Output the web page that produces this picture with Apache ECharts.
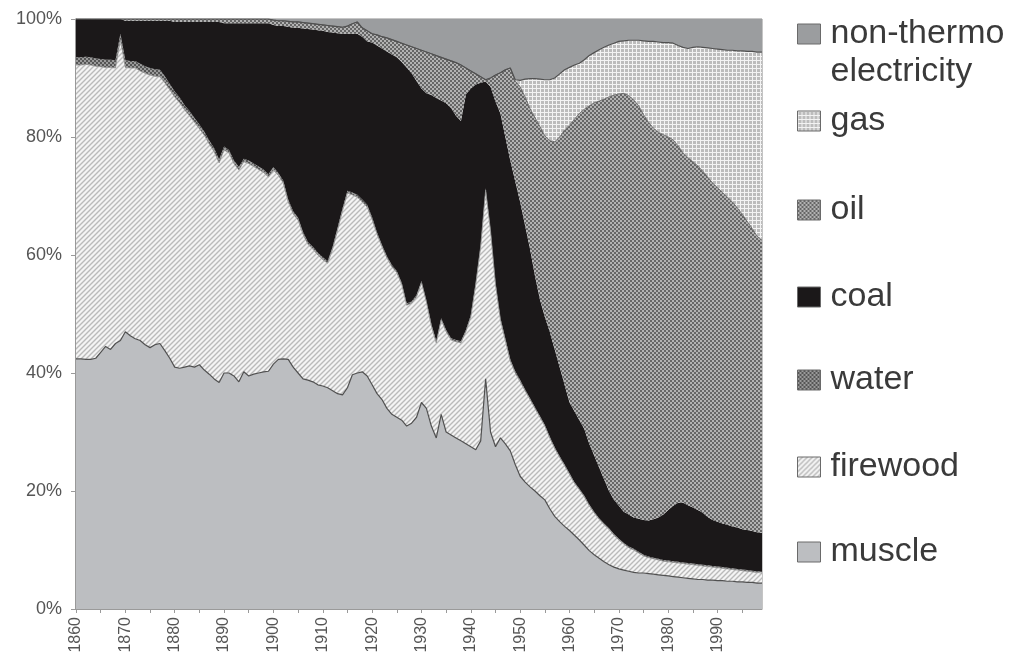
<!DOCTYPE html>
<html>
<head>
<meta charset="utf-8">
<script src="https://cdn.jsdelivr.net/npm/echarts@6/dist/echarts.min.js"></script>
<style>
html,body{margin:0;padding:0;background:#fff;}
#chart{width:1016px;height:661px;}
</style>
</head>
<body>
<div id="chart"></div>
<script>
// ---- DATA (shares of total energy, %) ----
const years = [];
for (let y = 1860; y <= 1999; y++) years.push(String(y));

const seriesNames = ['muscle', 'firewood', 'water', 'coal', 'oil', 'gas', 'non-thermo electricity'];

const muscle = [
  42.4, 42.4, 42.3, 42.3, 42.5, 43.5, 44.5, 44.0, 45.0, 45.5,
  47.0, 46.3, 45.8, 45.5, 44.8, 44.3, 44.8, 45.0, 43.8, 42.5,
  41.0, 40.8, 41.0, 41.2, 41.0, 41.4, 40.5, 39.8, 39.0, 38.4,
  40.0, 40.0, 39.5, 38.5, 40.2, 39.5, 39.8, 40.0, 40.2, 40.3,
  41.5, 42.3, 42.4, 42.3, 41.0, 40.0, 39.0, 38.8, 38.5, 38.0,
  37.8, 37.5, 37.0, 36.5, 36.3, 37.5, 39.7, 40.0, 40.2, 39.5,
  38.0, 36.5, 35.5, 34.0, 33.0, 32.5, 32.0, 31.0, 31.5, 32.5,
  35.0, 34.0, 31.0, 29.0, 33.0, 30.0, 29.5, 29.0, 28.5, 28.0,
  27.5, 27.0, 28.5, 39.0, 30.0, 27.5, 29.0, 28.0, 26.8, 24.5,
  22.5, 21.5, 20.7, 20.0, 19.2, 18.5, 17.0, 15.7, 14.8, 14.0,
  13.3, 12.5, 11.7, 10.8, 9.9, 9.2, 8.6, 8.0, 7.5, 7.1,
  6.8, 6.6, 6.4, 6.2, 6.1, 6.1, 6.0, 5.9, 5.8, 5.7,
  5.6, 5.5, 5.4, 5.3, 5.2, 5.1, 5.0, 5.0, 4.9, 4.9,
  4.8, 4.8, 4.7, 4.7, 4.6, 4.6, 4.5, 4.5, 4.4, 4.4
];

const firewood = [
  49.8, 49.8, 50.0, 49.9, 49.5, 48.4, 47.3, 47.8, 46.7, 51.0,
  44.8, 45.4, 45.9, 45.7, 46.0, 46.2, 45.5, 45.2, 45.4, 45.5,
  45.8, 45.0, 43.6, 42.4, 41.5, 40.0, 39.8, 39.0, 38.5, 37.2,
  37.8, 37.3, 36.0, 35.9, 35.6, 36.0, 35.2, 34.5, 33.8, 32.9,
  32.9, 31.2, 29.8, 26.7, 26.0, 25.9, 24.5, 23.0, 22.5, 22.0,
  21.4, 21.1, 24.0, 27.7, 31.2, 33.0, 30.5, 29.8, 28.8, 28.6,
  28.0, 27.0, 25.9, 25.5, 25.0, 24.5, 23.0, 20.5, 20.3, 20.4,
  20.3, 18.0, 17.0, 16.1, 16.0, 17.0, 16.1, 16.3, 16.6, 19.0,
  22.0, 28.0, 32.9, 32.0, 34.0, 27.5, 20.0, 17.5, 15.2, 15.5,
  16.0, 15.5, 14.8, 14.0, 13.3, 12.5, 12.0, 11.5, 10.9, 10.3,
  9.5, 8.8, 8.5, 8.2, 7.6, 7.1, 6.6, 6.3, 6.0, 5.4,
  4.9, 4.4, 4.0, 3.8, 3.4, 2.9, 2.7, 2.6, 2.5, 2.4,
  2.4, 2.4, 2.4, 2.4, 2.4, 2.4, 2.4, 2.3, 2.3, 2.2,
  2.2, 2.1, 2.1, 2.0, 2.0, 1.9, 1.9, 1.8, 1.8, 1.7
];

const water = [
  1.3, 1.3, 1.3, 1.3, 1.3, 1.3, 1.3, 1.3, 1.3, 1.0,
  1.2, 1.2, 1.2, 1.2, 1.2, 1.2, 1.2, 1.2, 1.1, 1.0,
  0.9, 0.9, 0.8, 0.8, 0.7, 0.7, 0.6, 0.6, 0.6, 0.6,
  0.6, 0.5, 0.5, 0.5, 0.5, 0.5, 0.5, 0.5, 0.5, 0.5,
  0.5, 0.4, 0.4, 0.4, 0.4, 0.4, 0.4, 0.4, 0.4, 0.4,
  0.4, 0.4, 0.4, 0.4, 0.4, 0.4, 0.4, 0.4, 0.4, 0.4,
  0.4, 0.3, 0.3, 0.3, 0.3, 0.3, 0.3, 0.3, 0.3, 0.3,
  0.3, 0.3, 0.3, 0.3, 0.3, 0.3, 0.3, 0.3, 0.3, 0.3,
  0.3, 0.3, 0.3, 0.3, 0.3, 0.3, 0.3, 0.3, 0.3, 0.3,
  0.3, 0.2, 0.2, 0.2, 0.2, 0.2, 0.2, 0.2, 0.2, 0.2,
  0.2, 0.2, 0.2, 0.2, 0.2, 0.2, 0.2, 0.2, 0.2, 0.2,
  0.2, 0.2, 0.2, 0.2, 0.2, 0.2, 0.2, 0.2, 0.2, 0.2,
  0.2, 0.2, 0.2, 0.2, 0.2, 0.2, 0.2, 0.2, 0.2, 0.2,
  0.2, 0.2, 0.2, 0.2, 0.2, 0.2, 0.2, 0.2, 0.2, 0.2
];

const coal = [
  6.5, 6.5, 6.4, 6.5, 6.7, 6.8, 6.9, 6.9, 7.0, 2.5,
  6.7, 6.8, 6.8, 7.3, 7.7, 8.0, 8.2, 8.3, 9.4, 10.7,
  11.8, 12.8, 14.1, 15.1, 16.3, 17.4, 18.6, 20.1, 21.4, 23.3,
  20.9, 21.5, 23.3, 24.4, 23.0, 23.3, 23.8, 24.3, 24.8, 25.6,
  24.1, 24.9, 26.2, 29.3, 31.1, 32.2, 34.5, 36.1, 36.8, 37.7,
  38.4, 38.8, 36.3, 33.0, 29.6, 26.6, 26.9, 27.3, 27.6, 27.7,
  29.6, 31.7, 33.3, 34.7, 35.7, 36.2, 37.4, 40.0, 38.7, 36.3,
  32.6, 35.1, 38.8, 41.2, 36.9, 38.4, 39.0, 38.0, 37.3, 39.9,
  38.4, 33.6, 27.5, 18.1, 24.2, 30.7, 34.7, 34.2, 33.7, 32.2,
  30.2, 27.8, 25.3, 22.3, 19.8, 18.3, 17.8, 16.6, 15.1, 13.5,
  12.0, 12.0, 11.6, 11.3, 10.3, 9.5, 8.6, 7.5, 6.3, 5.8,
  5.6, 5.3, 5.4, 5.3, 5.6, 5.9, 6.1, 6.5, 7.0, 7.7,
  8.6, 9.4, 10.0, 10.1, 9.8, 9.5, 9.2, 8.8, 8.2, 7.8,
  7.6, 7.4, 7.3, 7.1, 7.0, 6.8, 6.8, 6.7, 6.6, 6.6
];

const oil = [
  0, 0, 0, 0, 0, 0, 0, 0, 0, 0,
  0.3, 0.3, 0.3, 0.3, 0.3, 0.3, 0.3, 0.3, 0.3, 0.3,
  0.5, 0.5, 0.5, 0.5, 0.5, 0.5, 0.5, 0.5, 0.5, 0.5,
  0.7, 0.7, 0.7, 0.7, 0.7, 0.7, 0.7, 0.7, 0.7, 0.7,
  0.8, 0.9, 0.9, 0.9, 1.0, 1.0, 1.0, 1.0, 1.0, 1.0,
  1.0, 1.1, 1.1, 1.1, 1.1, 1.3, 1.7, 2.0, 1.5, 1.8,
  1.5, 1.8, 2.0, 2.3, 2.5, 2.7, 3.2, 3.8, 4.5, 5.5,
  6.5, 7.0, 7.0, 7.2, 7.3, 7.5, 8.0, 9.0, 9.5, 4.5,
  3.0, 1.8, 1.0, 0.3, 1.5, 4.5, 6.9, 11.4, 15.7, 17.0,
  19.5, 21.8, 23.8, 26.8, 29.3, 30.7, 32.4, 35.2, 39.0, 43.2,
  47.0, 49.5, 52.0, 54.2, 57.3, 59.8, 62.1, 64.4, 66.8, 68.6,
  69.8, 70.9, 71.0, 70.8, 70.0, 68.7, 67.5, 66.3, 65.3, 64.4,
  63.2, 62.0, 60.5, 59.3, 58.9, 58.6, 58.3, 57.9, 57.6, 57.1,
  56.6, 56.1, 55.5, 55.0, 54.2, 53.4, 52.3, 51.3, 50.2, 49.6
];

const gas = [
  0, 0, 0, 0, 0, 0, 0, 0, 0, 0,
  0, 0, 0, 0, 0, 0, 0, 0, 0, 0,
  0, 0, 0, 0, 0, 0, 0, 0, 0, 0,
  0, 0, 0, 0, 0, 0, 0, 0, 0, 0,
  0, 0, 0, 0, 0, 0, 0, 0, 0, 0,
  0, 0, 0, 0, 0, 0, 0, 0, 0, 0,
  0, 0, 0, 0, 0, 0, 0, 0, 0, 0,
  0, 0, 0, 0, 0, 0, 0, 0, 0, 0,
  0, 0, 0, 0, 0, 0, 0, 0, 0, 0.2,
  1.1, 3.0, 5.1, 6.6, 8.0, 9.5, 10.3, 10.8, 10.7, 10.2,
  9.8, 9.2, 8.5, 8.4, 8.5, 8.5, 8.7, 8.8, 8.8, 8.8,
  8.9, 8.9, 9.4, 10.1, 11.1, 12.5, 13.7, 14.7, 15.3, 15.6,
  16.0, 16.4, 17.0, 17.9, 18.5, 19.4, 20.2, 21.0, 21.9, 22.8,
  23.5, 24.2, 24.9, 25.7, 26.6, 27.7, 28.8, 30.0, 31.2, 31.9
];

const nonThermo = [
  0, 0, 0, 0, 0, 0, 0, 0, 0, 0,
  0, 0, 0, 0, 0, 0, 0, 0, 0, 0,
  0, 0, 0, 0, 0, 0, 0, 0, 0, 0,
  0, 0, 0, 0, 0, 0, 0, 0, 0, 0,
  0.2, 0.3, 0.3, 0.4, 0.5, 0.5, 0.6, 0.7, 0.8, 0.9,
  1.0, 1.1, 1.2, 1.3, 1.4, 1.2, 0.8, 0.5, 1.5, 2.0,
  2.5, 2.7, 3.0, 3.2, 3.5, 3.8, 4.1, 4.4, 4.7, 5.0,
  5.3, 5.6, 5.9, 6.2, 6.5, 6.8, 7.1, 7.4, 7.8, 8.3,
  8.8, 9.3, 9.8, 10.3, 10.0, 9.5, 9.1, 8.6, 8.3, 10.3,
  10.4, 10.2, 10.1, 10.1, 10.2, 10.3, 10.3, 10.0, 9.3, 8.6,
  8.2, 7.8, 7.5, 6.9, 6.2, 5.7, 5.2, 4.8, 4.4, 4.1,
  3.8, 3.7, 3.6, 3.6, 3.6, 3.7, 3.8, 3.8, 3.9, 4.0,
  4.0, 4.1, 4.5, 4.8, 5.0, 4.8, 4.7, 4.8, 4.9, 5.0,
  5.1, 5.2, 5.3, 5.3, 5.4, 5.4, 5.5, 5.5, 5.6, 5.6
];

const yTicks = [0, 20, 40, 60, 80, 100];
const values = [muscle, firewood, water, coal, oil, gas, nonThermo];

// ---- PATTERNS ----
function pat(w, h, draw) {
  const c = document.createElement('canvas');
  c.width = w; c.height = h;
  const g = c.getContext('2d');
  draw(g, w, h);
  return { image: c, repeat: 'repeat' };
}
const fills = [
  '#bcbec1',
  pat(5, 5, (g, w, h) => {
    g.fillStyle = '#f4f4f4'; g.fillRect(0, 0, w, h);
    g.strokeStyle = '#bababa'; g.lineWidth = 1.4;
    g.beginPath();
    g.moveTo(-1, h + 1); g.lineTo(w + 1, -1);
    g.moveTo(-1, 1); g.lineTo(1, -1);
    g.moveTo(w - 1, h + 1); g.lineTo(w + 1, h - 1);
    g.stroke();
  }),
  pat(4, 4, (g) => {
    g.fillStyle = '#555555'; g.fillRect(0, 0, 4, 4);
    g.fillStyle = '#999999'; g.fillRect(0, 0, 2, 2); g.fillRect(2, 2, 2, 2);
  }),
  '#1b1819',
  pat(4, 4, (g) => {
    g.fillStyle = '#666666'; g.fillRect(0, 0, 4, 4);
    g.fillStyle = '#b2b2b2'; g.fillRect(0, 0, 2, 2); g.fillRect(2, 2, 2, 2);
  }),
  pat(4, 4, (g) => {
    g.fillStyle = '#bcbcbc'; g.fillRect(0, 0, 4, 4);
    g.fillStyle = '#f3f3f3'; g.fillRect(0, 0, 4, 1); g.fillRect(0, 0, 1, 4);
  }),
  '#9b9d9f'
];
const lineStyles = [
  { color: '#505050', width: 1.2 },
  { color: '#909090', width: 0.8 },
  { width: 0 },
  { width: 0 },
  { color: '#5a5a5a', width: 0.8 },
  { color: '#505050', width: 1.2 },
  { width: 0 }
];

const series = seriesNames.map((name, i) => ({
  name: name,
  type: 'line',
  stack: 'total',
  data: values[i],
  showSymbol: false,
  symbol: 'none',
  lineStyle: lineStyles[i],
  areaStyle: { color: fills[i], opacity: 1 },
  itemStyle: { color: '#777' },
  emphasis: { disabled: true },
  silent: true,
  z: 2
}));

// legend: top (non-thermo) to bottom (muscle)
const legendOrder = [6, 5, 4, 3, 2, 1, 0];
const legendTops = [-23, 102, 191, 278, 361, 448, 533];
const legendFont = { fontFamily: 'Liberation Sans, Arial, sans-serif', fontSize: 34, color: '#3a3a3a', lineHeight: 38, padding: [0, 0, 0, 5] };
const legends = legendOrder.map((si, j) => ({
  left: 797,
  top: legendTops[j],
  orient: 'vertical',
  padding: 0,
  itemWidth: 23,
  itemHeight: 20,
  icon: 'rect',
  selectedMode: false,
  data: [{ name: seriesNames[si], itemStyle: { color: fills[si], borderColor: '#6a6a6a', borderWidth: 1 } }],
  formatter: (n) => n === 'non-thermo electricity' ? ' \nnon-thermo\nelectricity' : n,
  textStyle: legendFont
}));

const chart = echarts.init(document.getElementById('chart'), null, { renderer: 'canvas' });
chart.setOption({
  animation: false,
  backgroundColor: '#ffffff',
  grid: {
    left: 76, right: 254, top: 19, bottom: 52,
    show: true, borderColor: '#8c8c8c', borderWidth: 1, backgroundColor: 'transparent'
  },
  legend: legends,
  xAxis: {
    type: 'category',
    data: years,
    boundaryGap: false,
    axisLine: { show: true, lineStyle: { color: '#9a9a9a', width: 1 } },
    axisTick: { show: true, interval: 4, length: 4, lineStyle: { color: '#9a9a9a' } },
    splitLine: { show: false },
    axisLabel: {
      interval: 9, rotate: 90, margin: 8,
      fontFamily: 'Liberation Sans, Arial, sans-serif', fontSize: 16, color: '#555'
    }
  },
  yAxis: {
    type: 'value',
    min: yTicks[0], max: yTicks[yTicks.length - 1], interval: 20,
    axisLine: { show: true, lineStyle: { color: '#8a8a8a', width: 1.5 } },
    axisTick: { show: true, length: 5, lineStyle: { color: '#9a9a9a' } },
    splitLine: { show: false },
    axisLabel: {
      margin: 14,
      fontFamily: 'Liberation Sans, Arial, sans-serif', fontSize: 18, color: '#555',
      formatter: (v) => v + '%'
    }
  },
  series: series
});
</script>
</body>
</html>
